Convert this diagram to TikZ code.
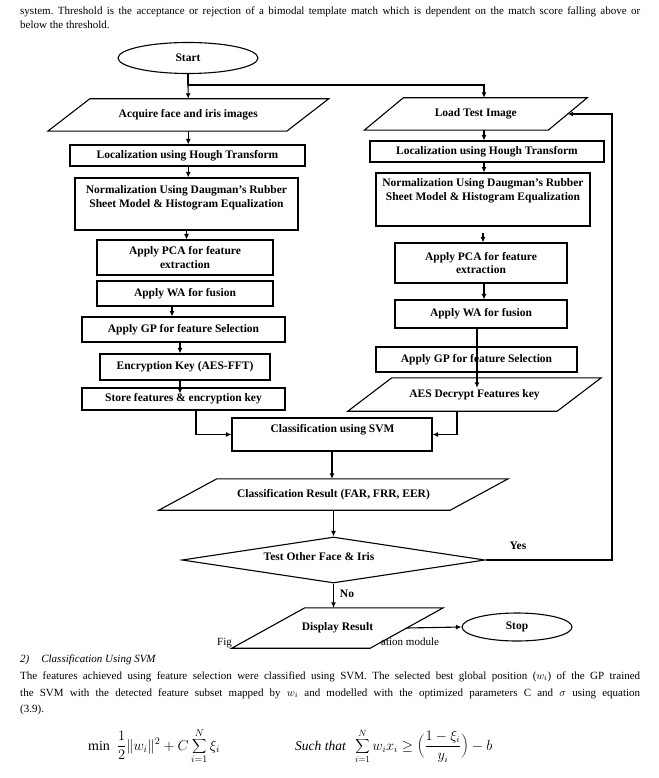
\documentclass[tikz,border=0pt]{standalone}
\usepackage{fontspec}
\setmainfont{Liberation Serif}
\usetikzlibrary{shapes.geometric,arrows.meta,calc}
\frenchspacing
\newcommand\paraoutline[2]{\draw[fline] ([xshift=#2pt]#1.north west) -- ([xshift=#2pt]#1.north east) -- ([xshift=-#2pt]#1.south east) -- ([xshift=-#2pt]#1.south west) -- cycle;}
\begin{document}
\begin{tikzpicture}[x=1pt,y=-1pt,
  fline/.style={line width=1.1pt},
  arr/.style={line width=1.1pt,-{Latex[length=5.5pt,width=5pt]}},
  ftext/.style={font=\fontsize{11.5}{13.5}\selectfont\bfseries,align=center},
  box/.style={draw,line width=1.1pt,rectangle,inner sep=0pt,ftext},
  paranode/.style={inner sep=0pt,ftext},
  oval/.style={draw,line width=1.1pt,ellipse,inner sep=0pt,ftext},
  bodytext/.style={inner sep=0pt,anchor=base west,font=\fontsize{11}{13}\selectfont},
  lbl/.style={inner sep=0pt,ftext}]
\useasboundingbox (0,0) rectangle (658,778);

% surrounding page text
\node[bodytext] (t1) at (20,15) {\makebox[620pt][s]{system. Threshold is the acceptance or rejection of a bimodal template match which is dependent on the match score falling above or}};
\node[bodytext] (t2) at (20,29) {below the threshold.};

% start
\node[oval,minimum width=140pt,minimum height=31pt] (start) at (188,58) {Start};

% left column
\node[paranode,minimum width=238.5pt,minimum height=32pt] (acq) at (188.25,115) {Acquire face and iris images};
\paraoutline{acq}{21}
\node[box,minimum width=235pt,minimum height=21pt] (locL) at (187.5,155.5) {Localization using Hough Transform};
\node[box,minimum width=223pt,minimum height=52pt] (normL) at (186.5,204) {};
\node[paranode] (normLt) at (186.5,198) {Normalization Using Daugman’s Rubber\\Sheet Model \& Histogram Equalization};
\node[box,minimum width=176pt,minimum height=35pt] (pcaL) at (185,257.5) {Apply PCA for feature\\extraction};
\node[box,minimum width=176pt,minimum height=25pt] (waL) at (185,293.5) {Apply WA for fusion};
\node[box,minimum width=203pt,minimum height=25pt] (gpL) at (183.5,329.5) {Apply GP for feature Selection};
\node[box,minimum width=170pt,minimum height=26pt] (encL) at (185,367) {Encryption Key (AES-FFT)};
\node[box,minimum width=203pt,minimum height=22pt] (storeL) at (183.5,399) {Store features \& encryption key};

% right column
\node[paranode,minimum width=183.5pt,minimum height=32pt] (load) at (475.75,114) {Load Test Image};
\paraoutline{load}{19.5}
\node[box,minimum width=234pt,minimum height=21pt] (locR) at (487,151.5) {Localization using Hough Transform};
\node[box,minimum width=214pt,minimum height=53pt] (normR) at (483,199.5) {};
\node[paranode] (normRt) at (483,191) {Normalization Using Daugman’s Rubber\\Sheet Model \& Histogram Equalization};
\node[box,minimum width=172pt,minimum height=40pt] (pcaR) at (481,263) {Apply PCA for feature\\extraction};
\node[box,minimum width=172pt,minimum height=28pt] (waR) at (481,314) {Apply WA for fusion};
\node[box,minimum width=201pt,minimum height=25pt] (gpR) at (476.5,359.5) {Apply GP for feature Selection};
\node[paranode,minimum width=209pt,minimum height=33pt] (aes) at (474.5,394.5) {AES Decrypt Features key};
\paraoutline{aes}{22}

% merged part
\node[box,minimum width=200pt,minimum height=33pt] (cls) at (332,434.5) {};
\node[lbl] (clst) at (332.5,430) {Classification using SVM};
\node[paranode,minimum width=291pt,minimum height=31pt] (res) at (333.5,494.5) {Classification Result (FAR, FRR, EER)};
\paraoutline{res}{29}
\node[diamond,draw,line width=1.1pt,minimum width=303pt,minimum height=46pt,aspect=6.6,inner sep=0pt] (dec) at (333.5,560) {};
\node[lbl] (dect) at (319,557) {Test Other Face \& Iris};

% caption fragments
\node[bodytext] (capa) at (217,645) {Fig};
\node[bodytext] (capb) at (381,645) {ation module};

\node[paranode,minimum width=138pt,minimum height=40pt] (disp) at (337.5,628) {Display Result};
\paraoutline{disp}{36.5}
\node[oval,minimum width=110pt,minimum height=28pt] (stop) at (517,627) {Stop};

\node[lbl] (yes) at (518,546) {Yes};
\node[lbl] (no) at (347,594) {No};

% connectors
\coordinate (br) at (188,85);
\coordinate (loopc) at (612,300);
\draw[fline] (start.south) -- (br);
\draw[arr] (br) -- (acq.north);
\draw[arr] (br) -| ([xshift=8.25pt]load.north);
\draw[arr] (acq.south) -- (acq.south |- locL.north);
\draw[arr] (locL.south -| acq.south) -- (acq.south |- normL.north);
\draw[arr] (normL.south) -- (normL.south |- pcaL.north);
\draw[arr] ([xshift=-13pt]waL.south) -- ([xshift=-13pt]waL.south |- gpL.north);
\draw[arr] ([xshift=-3.5pt]gpL.south) -- ([xshift=-3.5pt]gpL.south |- encL.north);
\draw[arr] ([xshift=-5pt]encL.south) -- ([xshift=-5pt,yshift=-6pt]encL.south |- storeL.north);
\draw[arr] ([xshift=12.5pt]storeL.south) |- (cls.west);

\draw[arr] ([xshift=8.25pt]load.south) -- ([xshift=8.25pt]load.south |- locR.north);
\draw[arr] ([xshift=-3pt]locR.south) -- ([xshift=-3pt]locR.south |- normR.north);
\draw[arr,shorten <=6pt] (normR.south) -- (normR.south |- pcaR.north);
\draw[arr] ([xshift=3pt]pcaR.south) -- ([xshift=3pt]pcaR.south |- waR.north);
\draw[arr] ([xshift=-4pt]waR.south) -- ([xshift=-4pt,yshift=-10pt]waR.south |- aes.north);
\draw[arr] ([xshift=-17.5pt]aes.south) |- (cls.east);

\draw[arr] (cls.south) -- (cls.south |- res.north);
\draw[arr] (res.south) -- (res.south |- dec.north);
\draw[arr] (dec.east) -| (loopc) |- (load.east);
\draw[arr] (dec.south) -- (dec.south |- disp.north);
\draw[arr] (disp.east) -- (stop.west);

% text below the figure
\node[bodytext,font=\fontsize{11}{13}\selectfont\itshape] (sec) at (20,662) {2)\hspace{12pt}Classification Using SVM};
\node[bodytext] (p1) at (20,679) {\makebox[620pt][s]{The features achieved using feature selection were classified using SVM. The selected best global position ($w_i$) of the GP trained}};
\node[bodytext] (p2) at (20,696) {\makebox[620pt][s]{the SVM with the detected feature subset mapped by $w_i$ and modelled with the optimized parameters C and $\sigma$ using equation}};
\node[bodytext] (p3) at (20,712) {(3.9).};

\node[inner sep=0pt,anchor=base west,font=\fontsize{14}{16}\selectfont] (eq1) at (88,750) {$\mathrm{min}\ \ \displaystyle\frac{1}{2}\|w_i\|^2 + C\sum_{i=1}^{N}\xi_i$};
\node[inner sep=0pt,anchor=base west,font=\fontsize{13.5}{16}\selectfont] (eq2) at (295,750) {\textit{Such that}\hspace{9pt}$\displaystyle\sum_{i=1}^{N} w_i x_i \geq \biggl(\frac{1-\xi_i}{y_i}\biggr) - b$};
\end{tikzpicture}
\end{document}
